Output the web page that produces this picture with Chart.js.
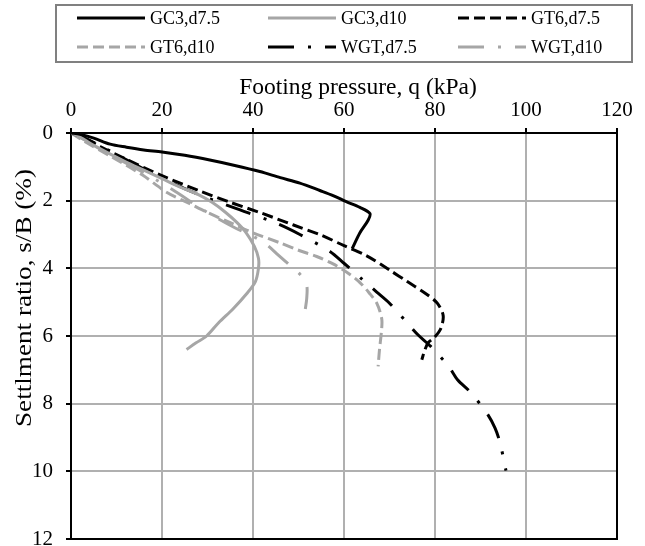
<!DOCTYPE html>
<html><head><meta charset="utf-8">
<script src="https://cdn.jsdelivr.net/npm/chart.js@4/dist/chart.umd.min.js"></script>
<style>html,body{margin:0;padding:0;background:#fff}</style>
</head><body>
<canvas id="c" width="645" height="546"></canvas>
<script>
// ---- data (q in kPa, s/B in %) ----
const seriesNames = ['GC3,d7.5', 'GC3,d10', 'GT6,d7.5', 'GT6,d10', 'WGT,d7.5', 'WGT,d10'];
const xTicks = [0, 20, 40, 60, 80, 100, 120];
const yTicks = [0, 2, 4, 6, 8, 10, 12];

const gc3d75_q = [0, 2, 5, 8.6, 12.2, 16, 20, 25, 30.5, 36, 41.5, 46, 50.3, 54.7, 57.6, 60.5, 63.5, 65.7, 65.3, 63.5, 61.8];
const gc3d75_s = [0, 0.04, 0.15, 0.33, 0.42, 0.5, 0.56, 0.66, 0.8, 0.96, 1.14, 1.32, 1.48, 1.7, 1.85, 2.03, 2.2, 2.38, 2.58, 2.95, 3.42];

const gc3d10_q = [0, 2, 4.5, 8, 12, 16, 20, 24, 28, 31, 34, 36.5, 38.5, 40.3, 41.2, 41.2, 40.5, 38.6, 35.6, 32.5, 29.8, 27.5, 25.4];
const gc3d10_s = [0, 0.12, 0.33, 0.58, 0.85, 1.1, 1.35, 1.6, 1.82, 2.05, 2.35, 2.65, 2.95, 3.35, 3.7, 4.0, 4.4, 4.75, 5.2, 5.6, 6.0, 6.2, 6.4];

const gt6d75_q = [0, 3, 6.4, 12.2, 19.6, 28.4, 35, 41.5, 48.9, 55, 60, 65, 70, 74, 78, 80.5, 81.8, 81.2, 79.8, 78.5, 77.8, 77.1];
const gt6d75_s = [0, 0.15, 0.4, 0.78, 1.24, 1.72, 2.05, 2.35, 2.72, 3.02, 3.33, 3.63, 4.05, 4.4, 4.75, 5.03, 5.4, 5.8, 6.05, 6.2, 6.4, 6.7];

const gt6d10_q = [0, 3, 8.6, 15.8, 21, 26, 30, 35, 40, 46, 50.3, 54, 57.6, 61, 63.5, 65.5, 67.2, 68.3, 68.2, 67.8, 67.5];
const gt6d10_s = [0, 0.25, 0.68, 1.25, 1.75, 2.08, 2.35, 2.65, 2.95, 3.25, 3.48, 3.65, 3.87, 4.15, 4.42, 4.72, 5.03, 5.5, 5.9, 6.4, 6.9];

const wgtd75_q = [0, 3, 7, 15.8, 26.8, 35.6, 45, 50.3, 56.9, 60, 64.2, 67.2, 70, 73.8, 76.3, 79, 83, 85, 87.7, 91.4, 93.2, 94.3, 95.6];
const wgtd75_s = [0, 0.15, 0.42, 1.05, 1.75, 2.2, 2.66, 3.0, 3.5, 3.85, 4.35, 4.7, 5.03, 5.6, 5.97, 6.3, 6.9, 7.3, 7.65, 8.28, 8.72, 9.16, 9.98];

const wgtd10_q = [0, 3, 8, 15, 22, 30, 36, 40, 43, 45.5, 48, 50.5, 51.8, 51.8, 51.5];
const wgtd10_s = [0, 0.2, 0.6, 1.1, 1.65, 2.35, 2.8, 3.05, 3.3, 3.6, 3.9, 4.2, 4.5, 4.9, 5.2];

// ---- styles ----
const BLACK = '#000000', GREY = '#a6a6a6', GRID = '#b0b0b0';
const SOLID = [], DASH = [11, 5], DASHDOT = [26, 14, 3, 14];
const FONT = "'Liberation Serif', 'Times New Roman', serif";

function pts(q, s) { return q.map((v, i) => ({ x: v, y: s[i] })); }
function ds(label, q, s, color, dash) {
  return { label, data: pts(q, s), borderColor: color, borderDash: dash, borderWidth: 3,
    showLine: true, pointRadius: 0, tension: 0.3, fill: false, borderCapStyle: 'butt', borderJoinStyle: 'round' };
}

const datasets = [
  ds(seriesNames[0], gc3d75_q, gc3d75_s, BLACK, SOLID),
  ds(seriesNames[1], gc3d10_q, gc3d10_s, GREY, SOLID),
  ds(seriesNames[2], gt6d75_q, gt6d75_s, BLACK, DASH),
  ds(seriesNames[3], gt6d10_q, gt6d10_s, GREY, DASH),
  ds(seriesNames[4], wgtd75_q, wgtd75_s, BLACK, DASHDOT),
  ds(seriesNames[5], wgtd10_q, wgtd10_s, GREY, DASHDOT)
];

const decor = {
  id: 'decor',
  beforeDatasetsDraw(chart) {
    const { ctx, chartArea: a } = chart;
    ctx.save();
    ctx.strokeStyle = '#000';
    ctx.lineWidth = 2;
    ctx.strokeRect(a.left, a.top, a.right - a.left, a.bottom - a.top);
    ctx.restore();
  },
  afterDraw(chart) {
    const ctx = chart.ctx;
    ctx.save();
    ctx.strokeStyle = '#808080';
    ctx.lineWidth = 2;
    ctx.strokeRect(56, 5, 576, 57);
    const colX = [77, 268, 458];
    const rowY = [18, 47];
    ctx.font = '18px ' + FONT;
    ctx.textBaseline = 'middle';
    ctx.textAlign = 'left';
    chart.data.datasets.forEach((d, i) => {
      const x = colX[i % 3], y = rowY[Math.floor(i / 3)];
      ctx.beginPath();
      ctx.setLineDash(d.borderDash);
      ctx.strokeStyle = d.borderColor;
      ctx.lineWidth = 3;
      ctx.lineCap = 'butt';
      ctx.moveTo(x, y);
      ctx.lineTo(x + 68, y);
      ctx.stroke();
      ctx.setLineDash([]);
      ctx.fillStyle = '#000';
      ctx.fillText(d.label, x + 73, y + 1);
    });
    ctx.fillStyle = '#000';
    ctx.textAlign = 'center';
    ctx.font = '23.5px ' + FONT;
    ctx.fillText('Footing pressure, q (kPa)', 358, 88);
    ctx.save();
    ctx.translate(25, 298);
    ctx.rotate(-Math.PI / 2);
    ctx.font = '23px ' + FONT;
    const yt = 'Settlment ratio, s/B (%)';
    const w = ctx.measureText(yt).width;
    ctx.scale(258 / w, 1);
    ctx.fillText(yt, 0, 0);
    ctx.restore();
    ctx.restore();
  }
};

const noPad = sc => { sc.paddingTop = 0; sc.paddingBottom = 0; sc.paddingLeft = 0; sc.paddingRight = 0; };

new Chart(document.getElementById('c'), {
  type: 'scatter',
  data: { datasets },
  options: {
    responsive: false,
    animation: false,
    devicePixelRatio: 1,
    layout: { padding: { top: 65, left: 0, right: 28, bottom: 7 } },
    plugins: { legend: { display: false }, tooltip: { enabled: false } },
    scales: {
      x: {
        type: 'linear', position: 'top', min: 0, max: 120,
        afterBuildTicks: sc => { sc.ticks = xTicks.map(v => ({ value: v })); },
        afterFit: sc => { sc.height = 68; noPad(sc); },
        ticks: { font: { family: FONT, size: 21 }, color: '#000', padding: 5 },
        grid: { color: GRID, lineWidth: 2, tickColor: '#000', tickLength: 5, tickWidth: 2, drawOnChartArea: true },
        border: { display: true, color: '#000', width: 2 },
        title: { display: false }
      },
      y: {
        type: 'linear', reverse: true, min: 0, max: 12,
        afterBuildTicks: sc => { sc.ticks = yTicks.map(v => ({ value: v })); },
        afterFit: sc => { sc.width = 71; noPad(sc); },
        ticks: { font: { family: FONT, size: 21 }, color: '#000', padding: 13 },
        grid: { color: GRID, lineWidth: 2, tickColor: '#000', tickLength: 5, tickWidth: 2, drawOnChartArea: true },
        border: { display: true, color: '#000', width: 2 }
      }
    }
  },
  plugins: [decor]
});
</script>
</body></html>
